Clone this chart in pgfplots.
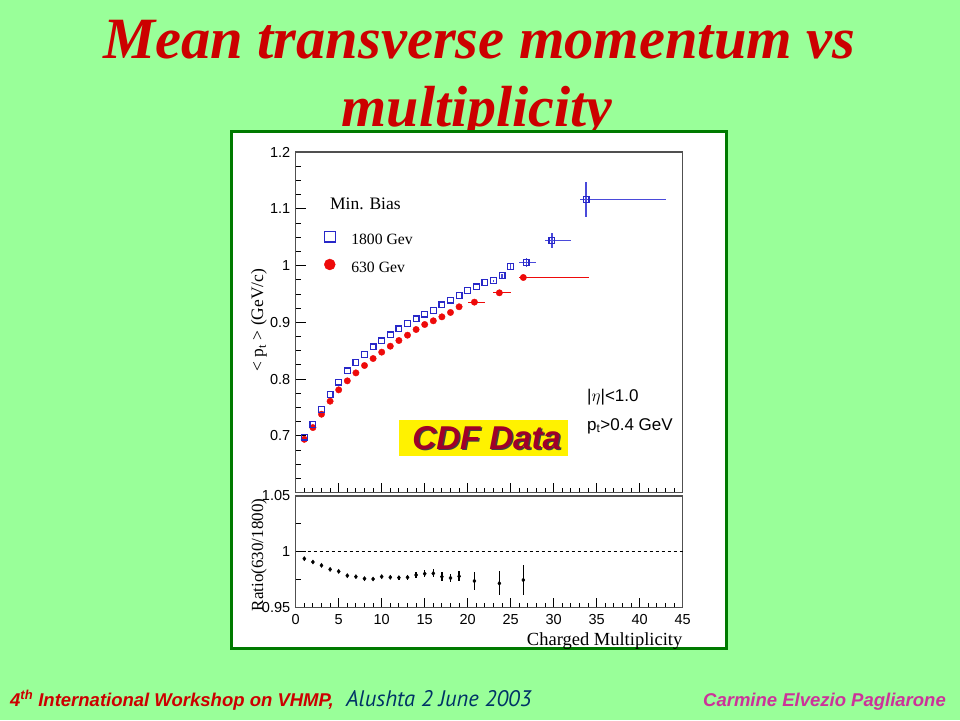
\documentclass[border=0pt]{standalone}
\usepackage{pgfplots}
\pgfplotsset{compat=1.18}
\usepackage{pgfplotstable}
\usepackage{fontspec}
\setmainfont{Liberation Serif}
\setsansfont{Liberation Sans}
\newfontfamily\ptsans{PT Sans}
\definecolor{slidebg}{HTML}{99FF99}
\definecolor{titlered}{HTML}{CC0000}
\definecolor{boxgreen}{HTML}{007A00}
\definecolor{rootblue}{HTML}{2828C8}
\definecolor{errblue}{HTML}{4A4ADA}
\definecolor{rootred}{HTML}{EE0A0A}
\definecolor{navy}{HTML}{003366}
\definecolor{author}{HTML}{CC3399}
\definecolor{cdfred}{HTML}{A00028}
\definecolor{framegray}{HTML}{505050}

% 1800 GeV
\pgfplotstableread{
x y xm xp ey
1 0.698 0 0 0
2 0.7206 0 0 0
3 0.7464 0 0 0
4 0.7734 0 0 0
5 0.7946 0 0 0
6 0.8146 0 0 0
7 0.8298 0 0 0
8 0.8439 0 0 0
9 0.8569 0 0 0
10 0.8674 0 0 0
11 0.878 0 0 0
12 0.8886 0 0 0
13 0.898 0 0 0
14 0.9062 0 0 0
15 0.9145 0 0 0
16 0.9209 0 0 0
17 0.9309 0 0 0
18 0.9391 0 0 0
19 0.9474 0 0 0
20 0.9556 0 0 0
21 0.9626 0 0 0
22 0.9697 0 0 0
23 0.9732 0 0 0.002
24 0.982 0 0 0.004
25 0.998 0 0 0.006
26.8 1.005 0.8 1.1 0.008
29.8 1.044 0.8 2.2 0.0135
33.76 1.116 0.7 9.3 0.031
}\highE
% 630 GeV
\pgfplotstableread{
x y xm xp ey
1 0.694 0 0 0.001
2 0.7147 0 0 0.001
3 0.7382 0 0 0.001
4 0.7611 0 0 0.001
5 0.7811 0 0 0.001
6 0.797 0 0 0.001
7 0.811 0 0 0.001
8 0.824 0 0 0.001
9 0.8363 0 0 0.001
10 0.8475 0 0 0.001
11 0.858 0 0 0.001
12 0.868 0 0 0.001
13 0.8774 0 0 0.001
14 0.8874 0 0 0.001
15 0.8962 0 0 0.001
16 0.9027 0 0 0.0015
17 0.9097 0 0 0.0015
18 0.9174 0 0 0.002
19 0.9274 0 0 0.002
20.78 0.9356 0.7 1.2 0.003
23.68 0.952 0.7 1.3 0.003
26.47 0.979 0.5 7.6 0.005
}\lowE
% ratio 630/1800
\pgfplotstableread{
x y ey
1 0.9939 0.0005
2 0.9909 0.0005
3 0.9879 0.0006
4 0.9843 0.0008
5 0.9825 0.001
6 0.9787 0.001
7 0.9778 0.001
8 0.976 0.001
9 0.9757 0.001
10 0.9778 0.0012
11 0.9772 0.0015
12 0.9769 0.0018
13 0.9772 0.002
14 0.9793 0.0025
15 0.9804 0.003
16 0.9807 0.0035
17 0.9778 0.004
18 0.9766 0.004
19 0.9781 0.0045
20.78 0.9739 0.008
23.68 0.9718 0.0107
26.47 0.9748 0.013
}\ratio

\pgfplotsset{rootaxis/.style={
  scale only axis, width=387pt,
  axis line style={framegray, line width=1.4pt},
  xmin=0, xmax=45,
  tick style={black, line width=0.9pt},
  major tick length=10pt, minor tick length=5pt,
  tick align=inside,
  xtick pos=left, ytick pos=left,
  xtick={0,5,...,45}, minor x tick num=4,
  ticklabel style={font=\sffamily\fontsize{14.5}{14.5}\selectfont},
  yticklabel style={xshift=-2pt},
  /pgf/number format/assume math mode=true,
  axis background/.style={fill=white},
  clip=false,
}}

\begin{document}
\begin{tikzpicture}[x=1pt,y=1pt]
\path[use as bounding box] (0,0) rectangle (960,720);
\fill[slidebg] (0,0) rectangle (960,720);

% title
\node[anchor=base, inner sep=0pt, text=titlered] at (479.4,661.7)
  {\fontsize{58.5}{58.5}\selectfont\bfseries\itshape Mean transverse momentum vs};
\node[anchor=base, inner sep=0pt, text=titlered] at (477,593)
  {\fontsize{58}{58}\selectfont\bfseries\itshape multiplicity};

% picture frame
\draw[boxgreen, line width=3pt, fill=white] (231.5,71.5) rectangle (726.5,588.5);

% upper panel
\begin{axis}[rootaxis, at={(295.7pt,227.3pt)}, anchor=south west,
  height=340.7pt, ymin=0.6, ymax=1.2,
  ytick={0.7,0.8,0.9,1,1.1,1.2},
  minor ytick={0.6,0.625,...,1.2},
  xticklabels=\empty,
  legend style={at={(axis cs:3.3,1.0605)}, anchor=north west, draw=none, fill=none,
    inner sep=0pt, row sep=13pt,
    font=\fontsize{15.7}{15.7}\selectfont,
    nodes={inner sep=0pt},
    /tikz/every odd column/.append style={column sep=16pt}},
  legend cell align=left,
  legend image code/.code={\draw[#1, yshift=0.33em] plot coordinates {(0pt,0pt)};},
]
\addlegendimage{only marks, mark=square, mark size=5.3pt, rootblue, line width=1.1pt}
\addlegendentry{1800 Gev}
\addlegendimage{only marks, mark=*, mark size=5.5pt, rootred}
\addlegendentry{630 Gev}

\addplot[forget plot, only marks, mark=*, mark size=3.2pt, rootred,
  error bars/.cd, x dir=both, x explicit, y dir=both, y explicit, error mark=none,
  error bar style={rootred, line width=1.2pt}]
  table[x=x, y=y, x error plus=xp, x error minus=xm, y error=ey]{\lowE};
\addplot[forget plot, only marks, mark=square, mark size=2.9pt, rootblue, line width=1.2pt,
  mark options={fill=white},
  error bars/.cd, x dir=both, x explicit, y dir=both, y explicit, error mark=none,
  error bar style={errblue, line width=1.3pt}]
  table[x=x, y=y, x error plus=xp, x error minus=xm, y error=ey]{\highE};

\node[anchor=base west, inner sep=0pt, font=\fontsize{17.5}{17.5}\selectfont]
  at (axis cs:3.98,1.0995) {Min. Bias};
\end{axis}

% lower panel
\begin{axis}[rootaxis, at={(295.7pt,112.3pt)}, anchor=south west,
  height=111.7pt, ymin=0.95, ymax=1.05,
  ytick={0.95,1,1.05}, minor y tick num=1,
  xticklabel style={yshift=-3pt},
]
\addplot[forget plot, black, dashed, line width=0.9pt] coordinates {(0,1) (45,1)};
\addplot[only marks, mark=diamond*, mark size=2.1pt, black,
  error bars/.cd, y dir=both, y explicit, error mark=none,
  error bar style={black, line width=1.4pt}]
  table[x=x, y=y, y error=ey]{\ratio};
\end{axis}

% axis titles
\node[rotate=90, inner sep=0pt, font=\fontsize{17.5}{17.5}\selectfont] at (259,400)
  {< p\textsubscript{t} > (GeV/c)};
\node[rotate=90, inner sep=0pt, font=\fontsize{17}{17}\selectfont] at (259,165)
  {Ratio(630/1800)};
\node[anchor=base east, inner sep=0pt, font=\fontsize{18.5}{18.5}\selectfont] at (682.5,75)
  {Charged Multiplicity};

% annotations
\node[anchor=west, inner sep=0pt, font=\sffamily\fontsize{17}{17}\selectfont] at (587,323)
  {|$\eta$|<1.0};
\node[anchor=west, inner sep=0pt, font=\sffamily\fontsize{17}{17}\selectfont] at (587,294)
  {p\textsubscript{t}>0.4 GeV};
\fill[yellow] (399,264.3) rectangle (567.7,300);
\node[inner sep=0pt, text=black!75, font=\sffamily\bfseries\itshape\fontsize{33}{33}\selectfont]
  at (488.2,280.7) {CDF Data};
\node[inner sep=0pt, text=cdfred, font=\sffamily\bfseries\itshape\fontsize{33}{33}\selectfont]
  at (486.7,282.2) {CDF Data};

% footer
\node[anchor=base west, inner sep=0pt, text=titlered, font=\sffamily\bfseries\itshape\fontsize{18.5}{18.5}\selectfont]
  at (10,14) {4\textsuperscript{th} International Workshop on VHMP,};
\node[anchor=base west, inner sep=0pt, text=navy, font=\ptsans\itshape\fontsize{22.5}{22.5}\selectfont]
  at (346,14) {Alushta 2 June 2003};
\node[anchor=base east, inner sep=0pt, text=author, font=\sffamily\bfseries\itshape\fontsize{18.5}{18.5}\selectfont]
  at (946,14) {Carmine Elvezio Pagliarone};
\end{tikzpicture}
\end{document}
